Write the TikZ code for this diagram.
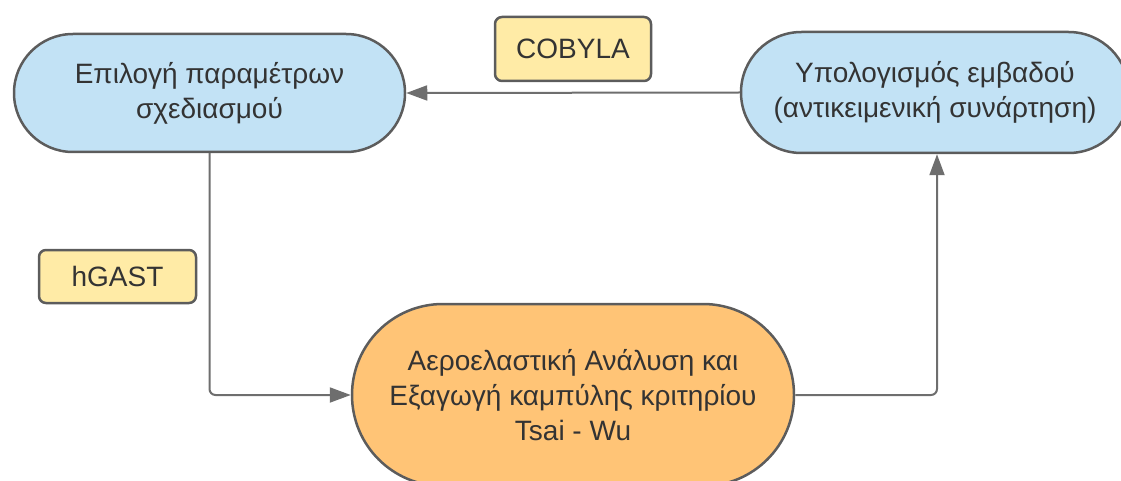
\documentclass[tikz,border=0pt]{standalone}
\usepackage{fontspec}
\setmainfont{Liberation Sans}
\usepackage{xcolor}
\usetikzlibrary{arrows.meta}
\definecolor{box-blue}{HTML}{C2E2F5}
\definecolor{box-orange}{HTML}{FFC476}
\definecolor{tag-yellow}{HTML}{FFEBA6}
\definecolor{box-edge}{HTML}{5C5C5C}
\definecolor{box-text}{HTML}{333333}
\definecolor{line-grey}{HTML}{6E6E6E}
\tikzset{
    flow-box/.style = {draw=box-edge, line width=2.5pt, rectangle, text=box-text, align=center, font=\fontsize{28}{35}\selectfont},
    step-box/.style = {flow-box, fill=box-blue},
    analysis-box/.style = {flow-box, fill=box-orange},
    tag-box/.style = {draw=box-edge, fill=tag-yellow, line width=2.5pt, rectangle, rounded corners=7pt, text=box-text, font=\fontsize{28}{34}\selectfont},
    flow-line/.style = {draw=line-grey, line width=2pt, rounded corners=6pt, -{Triangle[length=21pt,width=15pt]}},
}

\begin{document}
\begin{tikzpicture}[x=1pt, y=-1pt]
\useasboundingbox (0,0) rectangle (1121,481);
\node[step-box, minimum width=391pt, minimum height=118pt, rounded corners=58.9pt] (params) at (209.5,93) {Επιλογή παραμέτρων\\σχεδιασμού};
\node[step-box, minimum width=388pt, minimum height=121pt, rounded corners=60.4pt] (area) at (935,92.5) {Υπολογισμός εμβαδού\\(αντικειμενική συνάρτηση)};
\node[analysis-box, minimum width=442pt, minimum height=182pt, rounded corners=90.9pt] (analysis) at (573,395) {Αεροελαστική Ανάλυση και\\Εξαγωγή καμπύλης κριτηρίου\\Tsai - Wu};
\node[tag-box, minimum width=156pt, minimum height=64pt] (cobyla) at (573,49) {COBYLA};
\node[tag-box, minimum width=157pt, minimum height=53pt] (hgast) at (117.5,276.5) {hGAST};
\draw[flow-line] (area.west) -- (params.east);
\draw[flow-line] (params.south) |- (analysis.west);
\draw[flow-line] (analysis.east) -| ([xshift=2pt]area.south);
\end{tikzpicture}
\end{document}
